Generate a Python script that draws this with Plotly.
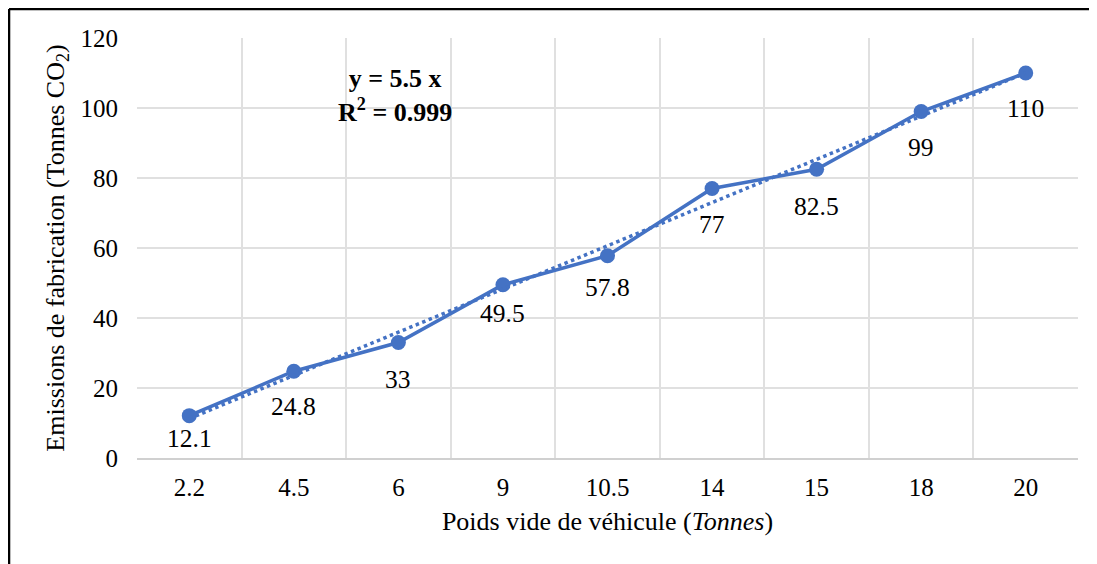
import numpy as np
import plotly.graph_objects as go

categories = ["2.2", "4.5", "6", "9", "10.5", "14", "15", "18", "20"]
emissions = [12.1, 24.8, 33, 49.5, 57.8, 77, 82.5, 99, 110]
label_text = ["12.1", "24.8", "33", "49.5", "57.8", "77", "82.5", "99", "110"]
y_ticks = [0, 20, 40, 60, 80, 100, 120]

# style: vertical shift (px) of each data label
label_shift = [-23, -35, -37, -29, -32, -36, -37, -36, -35]

BLUE = "#4472C4"
FONT = "Liberation Serif"

# linear trendline on category index (as spreadsheet does)
idx = np.arange(1, len(emissions) + 1)
slope, intercept = np.polyfit(idx, emissions, 1)
trend = slope * idx + intercept

fig = go.Figure()
fig.add_trace(go.Scatter(
    x=categories, y=emissions, mode="lines+markers",
    line=dict(color=BLUE, width=3.5), marker=dict(color=BLUE, size=15),
    showlegend=False, hoverinfo="skip"))
fig.add_trace(go.Scatter(
    x=categories, y=trend, mode="lines",
    line=dict(color=BLUE, width=3.5, dash="dot"),
    showlegend=False, hoverinfo="skip"))

for i, (v, t, s) in enumerate(zip(emissions, label_text, label_shift)):
    fig.add_annotation(x=i, y=v, text=t, showarrow=False, yshift=s,
                       xanchor="center", yanchor="middle",
                       font=dict(family=FONT, size=25.5, color="#000"))

fig.add_annotation(xref="paper", yref="paper", x=0.274, y=0.863,
                   xanchor="center", yanchor="middle",
                   text="<b>y = 5.5 x</b><br><b>R<sup>2</sup> = 0.999</b>",
                   showarrow=False, align="center",
                   font=dict(family=FONT, size=26, color="#000"))

# outer frame (top and left edges visible)
fig.add_shape(type="line", xref="paper", yref="paper", x0=-0.136, x1=1.1,
              y0=1.069, y1=1.069, line=dict(color="#000", width=2.5))
fig.add_shape(type="line", xref="paper", yref="paper", x0=-0.136, x1=-0.136,
              y0=1.069, y1=-0.3, line=dict(color="#000", width=2.5))

fig.update_layout(
    width=1089, height=556,
    margin=dict(l=129, r=19, t=30, b=106),
    paper_bgcolor="white", plot_bgcolor="white",
    font=dict(family=FONT, size=25, color="#000"),
    xaxis=dict(type="category", tickson="boundaries", showgrid=True,
               gridcolor="#e0e0e0", gridwidth=1.5, ticks="",
               showline=True, linecolor="#d0d0d0", linewidth=1.5,
               tickfont=dict(family=FONT, size=25),
               ticklabelstandoff=6,
               title=dict(text="Poids vide de véhicule (<i>Tonnes</i>)",
                          font=dict(family=FONT, size=26), standoff=12),
               range=[-0.5, 8.5], fixedrange=True),
    yaxis=dict(range=[0, 120], tickvals=y_ticks, showgrid=True,
               gridcolor="#e0e0e0", gridwidth=1.5, zeroline=False,
               showline=False, ticks="",
               tickfont=dict(family=FONT, size=25),
               ticklabelstandoff=18,
               title=dict(text="Emissions de fabrication (Tonnes CO<sub>2</sub>)",
                          font=dict(family=FONT, size=26), standoff=8),
               fixedrange=True),
)

fig.write_html("out.html")
